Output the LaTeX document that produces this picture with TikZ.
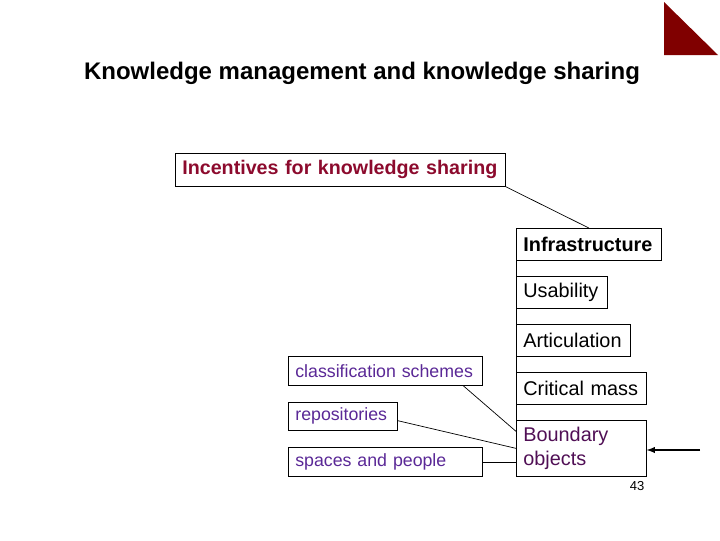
\documentclass[tikz,border=0pt]{standalone}
\usepackage{fontspec}
\setmainfont{Liberation Sans}
\usepackage{tikz}
\usetikzlibrary{arrows, calc}
\definecolor{slidered}{RGB}{128,0,0}
\definecolor{incred}{RGB}{140,10,45}
\definecolor{plum}{RGB}{80,15,85}
\definecolor{violet}{RGB}{90,40,150}
\tikzstyle{box} = [draw, thin, anchor=north west, align=left, inner xsep=1.4mm, inner ysep=0pt]
\tikzstyle{mainbox} = [box, font=\fontsize{11.3}{13.6}\selectfont, minimum height=6.4mm]
\tikzstyle{subbox} = [box, font=\fontsize{10.1}{12}\selectfont, text=violet, minimum height=5.8mm]
\tikzstyle{line} = [draw, thin]

\begin{document}
\begin{tikzpicture}[x=0.2mm, y=-0.2mm]
	\useasboundingbox (0,0) rectangle (720,540);
	\fill [slidered] (664,2) -- (664,55) -- (718,55) -- cycle;
	\node [font=\fontsize{13.65}{16}\selectfont\bfseries] (title) at (362,73) {Knowledge management and knowledge sharing};
	
	\node [mainbox, font=\fontsize{11.2}{13.6}\selectfont\bfseries, text=incred, text width=63.2mm, minimum height=6.6mm] (incent) at (175,153) {Incentives for knowledge sharing};
	\node [mainbox, font=\fontsize{11.3}{13.6}\selectfont\bfseries, text width=26.2mm] (infra) at (516,228) {Infrastructure};
	\node [mainbox, text width=15.4mm] (usab) at (516,276) {Usability};
	\node [mainbox, text width=20mm] (artic) at (516,324) {Articulation};
	\node [mainbox, text width=23.2mm] (crit) at (516,372) {Critical mass};
	\node [mainbox, text=plum, text width=23.2mm, minimum height=11.2mm] (bound) at (516,420) {Boundary\\objects};
	
	\node [subbox, text width=36mm] (class) at (288,356) {classification schemes};
	\node [subbox, text width=19mm, minimum height=5.6mm] (repo) at (288,402) {repositories};
	\node [subbox, text width=36mm] (spaces) at (288,447) {spaces and people};
	
	\node [font=\fontsize{7.4}{9}\selectfont] (pagenum) at (637,486) {43};
	\coordinate (arrowstart) at (700,450);
	
	\path [line] (incent.south east) -- (infra.north);
	\path [line] (infra.south west) -- (bound.north west);
	\path [line] ($(class.south west)!0.9!(class.south east)$) -- ($(bound.north west)!0.2!(bound.south west)$);
	\path [line] ($(repo.north east)!0.65!(repo.south east)$) -- (bound.west);
	\path [line] (spaces.east) -- (spaces.east -| bound.west);
	\draw [-latex, semithick] (arrowstart) -- (arrowstart -| bound.east);
\end{tikzpicture}
\end{document}
